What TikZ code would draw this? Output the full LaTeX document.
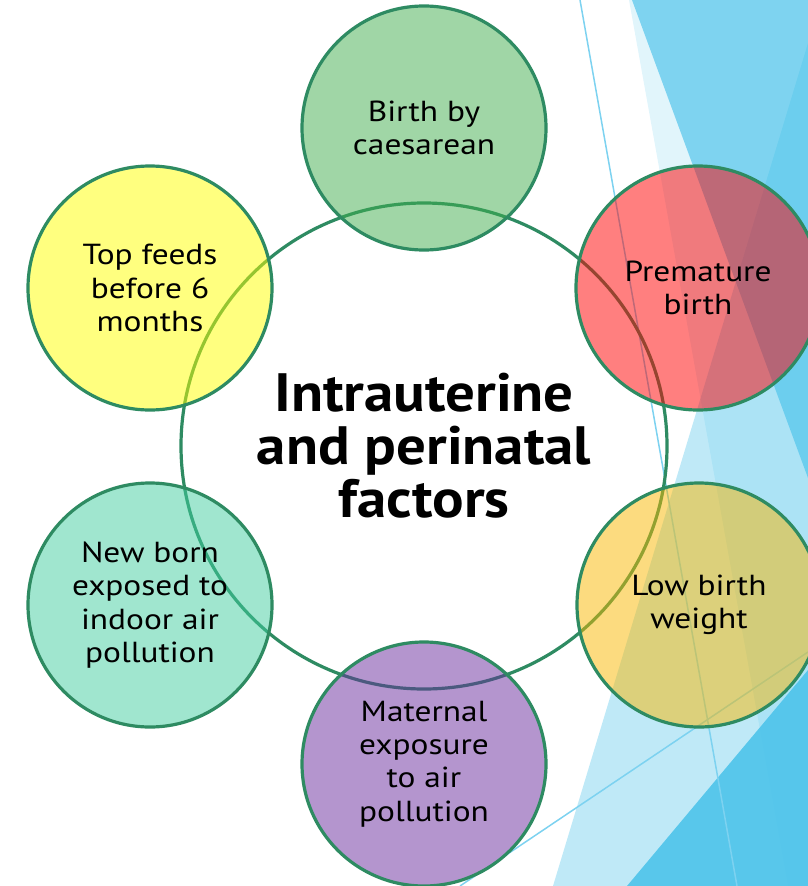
\documentclass[tikz,border=0pt]{standalone}
\usepackage{fontspec}
\setmainfont{PT Sans}
\newfontfamily\satfont[FakeStretch=1.15]{PT Sans}
\newfontfamily\hubfont[FakeStretch=1.09]{PT Sans}
\definecolor{ring}{RGB}{46,139,98}
\definecolor{cbase}{RGB}{77,195,234}
\definecolor{thinblue}{RGB}{125,210,240}
\definecolor{fgreen}{RGB}{65,173,77}
\definecolor{fred}{RGB}{255,0,0}
\definecolor{fgold}{RGB}{249,183,0}
\definecolor{fpurple}{RGB}{105,43,157}
\definecolor{fmint}{RGB}{65,205,159}
\definecolor{fyellow}{RGB}{255,255,0}
\begin{document}
\begin{tikzpicture}[x=1pt,y=-1pt,
  sat/.style={circle, draw=ring, line width=3.2pt, minimum size=244pt, inner sep=0pt,
    fill opacity=0.5, text opacity=1, align=center,
    font=\satfont\fontsize{29}{33.3}\selectfont},
  hub/.style={circle, draw=ring, line width=3.2pt, minimum size=486pt, inner sep=0pt},
  hubtext/.style={align=center, font=\hubfont\bfseries\fontsize{54}{53}\selectfont},
  thinline/.style={draw=thinblue, line width=1.5pt}]
\useasboundingbox (0,0) rectangle (808,886);
% background facets
\fill[cbase, opacity=0.17] (629,0) -- (808,0) -- (808,886) -- (788,886) -- cycle;
\fill[cbase, opacity=0.67] (632,0) -- (808,0) -- (808,478) -- cycle;
\fill[cbase, opacity=0.36] (808,43) -- (553,886) -- (808,886) -- cycle;
\fill[cbase, opacity=0.9] (808,670) -- (627,886) -- (808,886) -- cycle;
\coordinate (la1) at (580,0);
\coordinate (la2) at (737,886);
\coordinate (lb1) at (460,886);
\coordinate (lb2) at (808,652);
\draw[thinline] (la1) -- (la2);
\draw[thinline] (lb1) -- (lb2);
% hub
\node[hub] (hub) at (424,446) {};
% satellites
\node[sat, fill=fgreen] (s1) at (424,128) {Birth by\\caesarean};
\node[sat, fill=fred] (s2) at (698,288) {Premature\\birth};
\node[sat, fill=fgold] (s3) at (699,605) {Low birth\\weight};
\node[sat, fill=fpurple] (s4) at (424,764) {Maternal\\exposure\\to air\\pollution};
\node[sat, fill=fmint] (s5) at (150,605) {New born\\exposed to\\indoor air\\pollution};
\node[sat, fill=fyellow] (s6) at (150,288) {Top feeds\\before 6\\months};
\node[hubtext] (title) at (424,446) {Intrauterine\\and perinatal\\factors};
\end{tikzpicture}
\end{document}
